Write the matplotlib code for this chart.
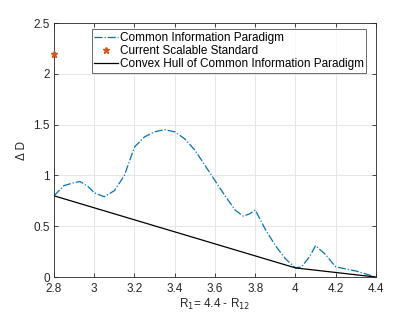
import matplotlib.pyplot as plt
import numpy as np

plt.rcParams["font.family"] = ["Liberation Sans", "DejaVu Sans"]

# Common information paradigm curve
r1 = [2.80, 2.85, 2.90, 2.93, 2.97, 3.00, 3.05, 3.10, 3.15, 3.20, 3.25, 3.30,
      3.35, 3.40, 3.45, 3.50, 3.55, 3.60, 3.65, 3.70, 3.74, 3.77, 3.80, 3.85,
      3.90, 3.95, 4.00, 4.03, 4.07, 4.10, 4.15, 4.20, 4.25, 4.30, 4.35, 4.40]
delta_d = [0.80, 0.90, 0.93, 0.94, 0.89, 0.83, 0.79, 0.85, 1.00, 1.28, 1.38, 1.43,
           1.45, 1.43, 1.36, 1.25, 1.10, 0.95, 0.80, 0.66, 0.60, 0.62, 0.66, 0.47,
           0.31, 0.18, 0.09, 0.10, 0.20, 0.31, 0.22, 0.10, 0.08, 0.06, 0.03, 0.00]

# convex hull vertices
hull_r1 = [2.8, 4.0, 4.4]
hull_d = [0.80, 0.09, 0.00]

# current scalable standard
std_r1 = [2.8]
std_d = [2.2]

fig = plt.figure(figsize=(4.15, 3.12), dpi=100)
ax = fig.add_axes([0.130, 0.112, 0.776, 0.814])

ax.plot(r1, delta_d, "-.", color="#0072BD", linewidth=0.9,
        label="Common Information Paradigm")
ax.plot(std_r1, std_d, "*", color="#D95319", markersize=5, linestyle="none",
        label="Current Scalable Standard", clip_on=False, zorder=5)
ax.plot(hull_r1, hull_d, "-", color="black", linewidth=0.9,
        label="Convex Hull of Common Information Paradigm")

ax.set_xlim(2.8, 4.4)
ax.set_ylim(0, 2.5)
ax.set_xticks(np.arange(2.8, 4.41, 0.2))
ax.set_xticklabels(["2.8", "3", "3.2", "3.4", "3.6", "3.8", "4", "4.2", "4.4"])
ax.set_yticks([0, 0.5, 1, 1.5, 2, 2.5])
ax.set_yticklabels(["0", "0.5", "1", "1.5", "2", "2.5"])
ax.tick_params(direction="in", top=True, right=True, labelsize=8.5,
               length=3, width=0.6, colors="#262626")
ax.tick_params(axis="x", pad=4.5)
ax.tick_params(axis="y", pad=3)
ax.grid(True, color="#e6e6e6", linewidth=0.7)
ax.set_axisbelow(True)
for s in ax.spines.values():
    s.set_linewidth(0.6)
    s.set_color("#262626")

ax.set_xlabel("R$_1$= 4.4 - R$_{12}$", fontsize=8.5, labelpad=1, color="#262626")
ax.set_ylabel("Δ D", fontsize=8.5, labelpad=4, color="#262626")

leg = ax.legend(loc="upper right", bbox_to_anchor=(0.97, 0.975), fontsize=8.5,
                frameon=True, fancybox=False, edgecolor="#262626",
                borderpad=0.2, labelspacing=0.1, handlelength=2.0,
                handletextpad=0.2, borderaxespad=0)
leg.get_frame().set_linewidth(0.6)

fig.savefig("out.png", dpi=100)
